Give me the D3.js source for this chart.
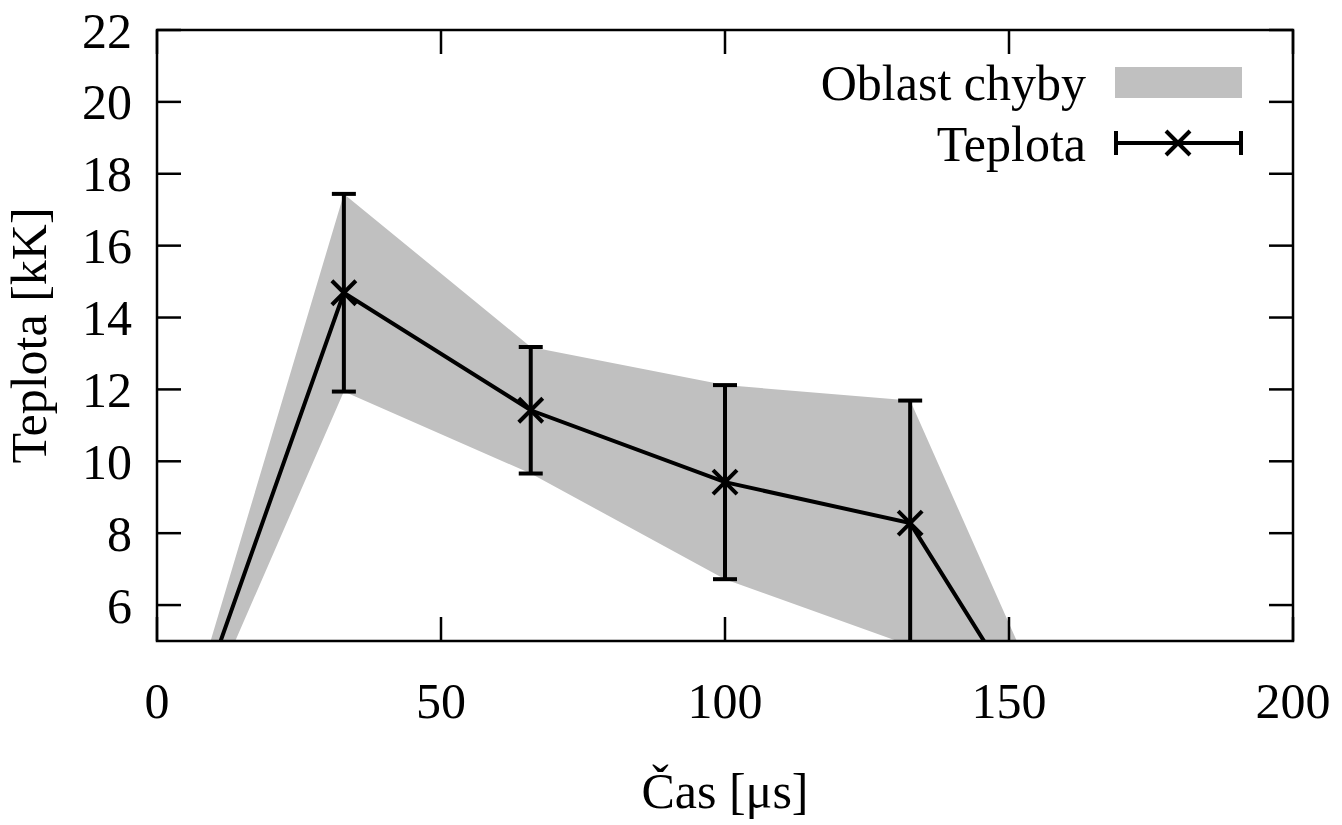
<!DOCTYPE html>
<html>
<head>
<meta charset="utf-8">
<script src="https://cdn.jsdelivr.net/npm/d3@7"></script>
<style>
  body { margin: 0; background: #fff; }
  text { font-family: "Liberation Serif", "DejaVu Serif", serif; fill: #000; }
</style>
</head>
<body>
<svg id="chart" width="1342" height="825"></svg>
<script>
// measured values (time in µs, temperature in kK)
var times = [0, 32.9, 65.8, 100, 132.6, 165.4];
var temps = [0, 14.69, 11.42, 9.42, 8.28, 0];
var errs  = [0, 2.75, 1.76, 2.70, 3.41, 0];
var xTicks = [0, 50, 100, 150, 200];
var yTicks = [6, 8, 10, 12, 14, 16, 18, 20, 22];

var svg = d3.select("#chart");
var margin = {left: 157, right: 49, top: 30, bottom: 184};
var width = 1342 - margin.left - margin.right,
    height = 825 - margin.top - margin.bottom;
var fontSize = "50px";

var x = d3.scaleLinear().domain([0, 200]).range([margin.left, margin.left + width]);
var y = d3.scaleLinear().domain([5, 22]).range([margin.top + height, margin.top]);

var data = times.map(function(t, i) {
  return {t: t, v: temps[i], lo: temps[i] - errs[i], hi: temps[i] + errs[i]};
});

svg.append("clipPath").attr("id", "plotclip")
  .append("rect")
    .attr("x", margin.left).attr("y", margin.top)
    .attr("width", width).attr("height", height);

var plot = svg.append("g").attr("clip-path", "url(#plotclip)");

// error band
plot.append("path")
  .datum(data)
  .attr("fill", "#c0c0c0")
  .attr("d", d3.area()
    .x(function(d) { return x(d.t); })
    .y0(function(d) { return y(d.lo); })
    .y1(function(d) { return y(d.hi); }));

// main line
plot.append("path")
  .datum(data)
  .attr("fill", "none")
  .attr("stroke", "#000")
  .attr("stroke-width", 4)
  .attr("d", d3.line()
    .x(function(d) { return x(d.t); })
    .y(function(d) { return y(d.v); }));

// error bars (skip zero-error endpoints)
var bars = plot.selectAll("g.err")
  .data(data.filter(function(d) { return d.hi > d.lo; }))
  .enter().append("g").attr("class", "err")
    .attr("stroke", "#000").attr("stroke-width", 4);
bars.append("line")
  .attr("x1", function(d) { return x(d.t); }).attr("x2", function(d) { return x(d.t); })
  .attr("y1", function(d) { return y(d.lo); }).attr("y2", function(d) { return y(d.hi); });
bars.append("line")
  .attr("x1", function(d) { return x(d.t) - 12; }).attr("x2", function(d) { return x(d.t) + 12; })
  .attr("y1", function(d) { return y(d.hi); }).attr("y2", function(d) { return y(d.hi); });
bars.append("line")
  .attr("x1", function(d) { return x(d.t) - 12; }).attr("x2", function(d) { return x(d.t) + 12; })
  .attr("y1", function(d) { return y(d.lo); }).attr("y2", function(d) { return y(d.lo); });
// x markers
bars.append("path")
  .attr("d", function(d) {
    var cx = x(d.t), cy = y(d.v), s = 12;
    return "M" + (cx - s) + "," + (cy - s) + "L" + (cx + s) + "," + (cy + s) +
           "M" + (cx - s) + "," + (cy + s) + "L" + (cx + s) + "," + (cy - s);
  });

// axes with inward ticks, mirrored
var tickLen = 24;
var axes = svg.append("g").attr("stroke", "#000").attr("stroke-width", 2.5);
yTicks.forEach(function(v) {
  axes.append("line").attr("x1", x(0)).attr("x2", x(0) + tickLen).attr("y1", y(v)).attr("y2", y(v));
  axes.append("line").attr("x1", x(200)).attr("x2", x(200) - tickLen).attr("y1", y(v)).attr("y2", y(v));
});
xTicks.forEach(function(v) {
  axes.append("line").attr("x1", x(v)).attr("x2", x(v)).attr("y1", y(5)).attr("y2", y(5) - tickLen);
  axes.append("line").attr("x1", x(v)).attr("x2", x(v)).attr("y1", y(22)).attr("y2", y(22) + tickLen);
});
axes.append("rect")
  .attr("x", margin.left).attr("y", margin.top)
  .attr("width", width).attr("height", height)
  .attr("fill", "none");

svg.selectAll("text.ytick").data(yTicks).enter().append("text")
  .attr("class", "ytick")
  .attr("x", x(0) - 25).attr("y", function(d) { return y(d); })
  .attr("dy", "0.35em")
  .attr("text-anchor", "end")
  .style("font-size", fontSize)
  .text(function(d) { return d; });

svg.selectAll("text.xtick").data(xTicks).enter().append("text")
  .attr("class", "xtick")
  .attr("x", function(d) { return x(d); }).attr("y", 718)
  .attr("text-anchor", "middle")
  .style("font-size", fontSize)
  .text(function(d) { return d; });

svg.append("text")
  .attr("transform", "translate(46," + (margin.top + height / 2) + ") rotate(-90)")
  .attr("text-anchor", "middle")
  .style("font-size", fontSize)
  .text("Teplota [kK]");

svg.append("text")
  .attr("x", margin.left + width / 2).attr("y", 808)
  .attr("text-anchor", "middle")
  .style("font-size", fontSize)
  .text("Čas [μs]");

// legend
var legend = svg.append("g");
legend.append("text")
  .attr("x", 1086).attr("y", 82).attr("dy", "0.35em")
  .attr("text-anchor", "end").style("font-size", fontSize)
  .text("Oblast chyby");
legend.append("rect")
  .attr("x", 1115).attr("y", 67).attr("width", 127).attr("height", 31)
  .attr("fill", "#c0c0c0");
legend.append("text")
  .attr("x", 1086).attr("y", 143).attr("dy", "0.35em")
  .attr("text-anchor", "end").style("font-size", fontSize)
  .text("Teplota");
var lg = legend.append("g").attr("stroke", "#000").attr("stroke-width", 4);
lg.append("line").attr("x1", 1116).attr("x2", 1241).attr("y1", 143).attr("y2", 143);
lg.append("line").attr("x1", 1116).attr("x2", 1116).attr("y1", 131).attr("y2", 155);
lg.append("line").attr("x1", 1241).attr("x2", 1241).attr("y1", 131).attr("y2", 155);
lg.append("path").attr("d", "M1166,131L1190,155M1166,155L1190,131");
</script>
</body>
</html>
